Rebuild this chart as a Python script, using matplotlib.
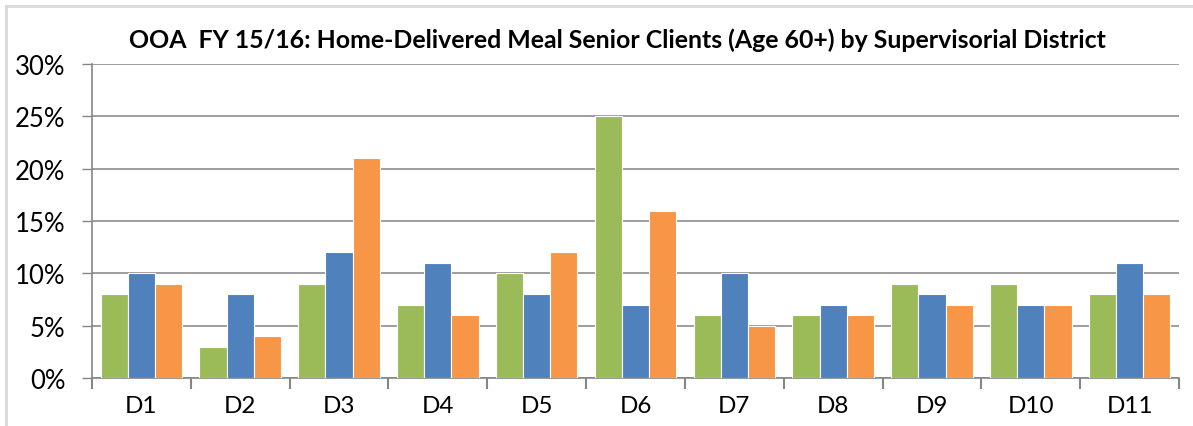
import matplotlib
matplotlib.use("Agg")
import matplotlib.pyplot as plt
import numpy as np
from matplotlib.lines import Line2D

categories = ["D1", "D2", "D3", "D4", "D5", "D6", "D7", "D8", "D9", "D10", "D11"]
series_green = [8, 3, 9, 7, 10, 25, 6, 6, 9, 9, 8]
series_blue = [10, 8, 12, 11, 8, 7, 10, 7, 8, 7, 11]
series_orange = [9, 4, 21, 6, 12, 16, 5, 6, 7, 7, 8]
yticks = [0, 5, 10, 15, 20, 25, 30]
ytick_labels = ["0%", "5%", "10%", "15%", "20%", "25%", "30%"]
title = "OOA  FY 15/16: Home-Delivered Meal Senior Clients (Age 60+) by Supervisorial District"

W, H = 1193, 427
fig = plt.figure(figsize=(W / 100, H / 100), dpi=100)
ax = fig.add_axes([92 / W, 1 - 379 / H, (1179 - 92) / W, (379 - 65) / H])

x = np.arange(len(categories))
bw = 0.275
colors = ["#9bbb59", "#4f81bd", "#f79646"]
for i, (vals, c) in enumerate(zip([series_green, series_blue, series_orange], colors)):
    ax.bar(x + (i - 1) * bw, vals, width=bw, color=c, edgecolor="white", linewidth=0.8, zorder=3)

ax.set_xlim(-0.5, len(categories) - 0.5)
ax.set_ylim(0, 30)
ax.set_yticks(yticks)
ax.set_yticklabels(ytick_labels, fontsize=18.5, family="Lato")
ax.set_xticks(x)
ax.set_xticklabels(categories, fontsize=17.5, family="Lato")
ax.tick_params(axis="x", length=0, pad=12)
ax.tick_params(axis="y", length=7, color="#868686", pad=12, width=1)
ax.set_xticks(np.arange(-0.5, len(categories), 1.0), minor=True)
ax.tick_params(axis="x", which="minor", length=8, color="#868686", width=1.5)
ax.grid(axis="y", color="#8c8c8c", linewidth=1.2, zorder=0)
for s in ["top", "right"]:
    ax.spines[s].set_visible(False)
for s in ["left", "bottom"]:
    ax.spines[s].set_color("#868686")
    ax.spines[s].set_linewidth(1.2)

fig.text(617 / W, 1 - 40 / H, title, ha="center", va="center", fontsize=17.9,
         fontweight="bold", family="Lato")

# outer light border
fig.add_artist(Line2D([6 / W, 1], [1 - 7 / H, 1 - 7 / H], color="#d9d9d9", linewidth=2, transform=fig.transFigure))
fig.add_artist(Line2D([6 / W, 6 / W], [0, 1 - 7 / H], color="#d9d9d9", linewidth=2, transform=fig.transFigure))

fig.savefig("out.png", dpi=100)
